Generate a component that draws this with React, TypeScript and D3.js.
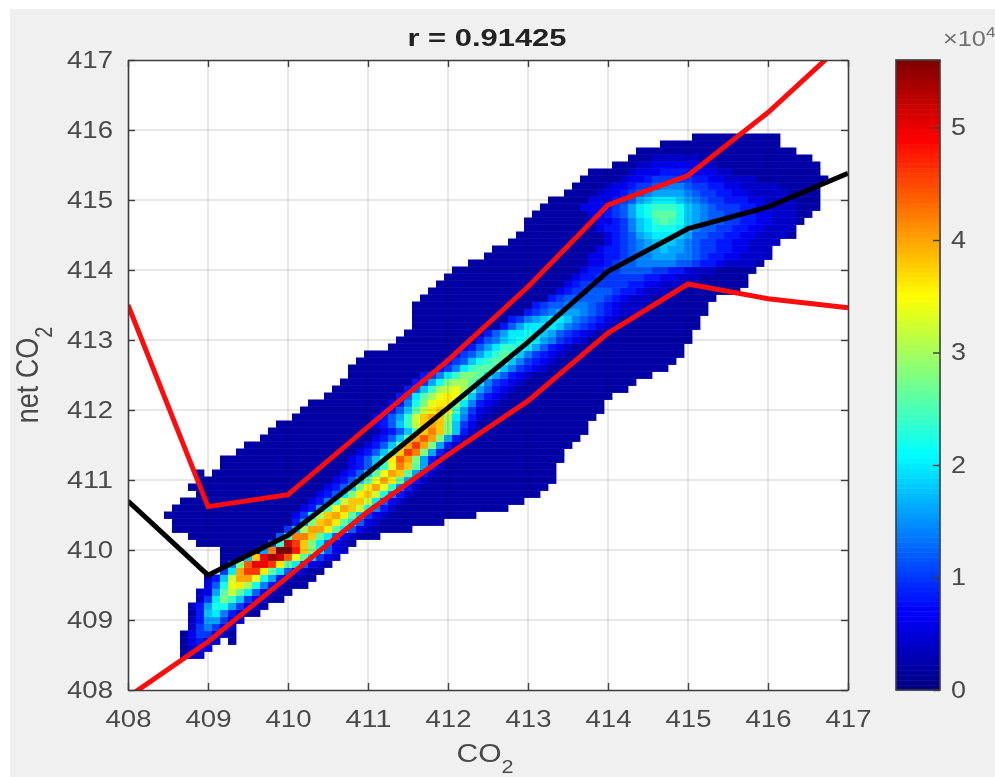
import React, { useEffect, useRef } from "react";
import * as d3 from "d3";

// AXES
const xTicks = [408, 409, 410, 411, 412, 413, 414, 415, 416, 417];
const yTicks = [408, 409, 410, 411, 412, 413, 414, 415, 416, 417];
const colorTicks = [0, 1, 2, 3, 4, 5];
const colorMax = 5.6;

// LINES, READ AT EACH WHOLE CO2 VALUE
const lineX = [408, 409, 410, 411, 412, 413, 414, 415, 416, 417];
const meanLine = [410.7, 409.64, 410.21, 411.1, 412.03, 412.97, 413.98, 414.59, 414.9, 415.38];
const upperLine = [413.5, 410.62, 410.79, 411.76, 412.71, 413.76, 414.93, 415.35, 416.25, 417.3];
const lowerLine = [407.9, 408.69, 409.62, 410.55, 411.36, 412.13, 413.1, 413.8, 413.59, 413.46];

// HEATMAP: one entry per row, first row is 408.5, rows and columns are 0.1 apart
// column number = (CO2 - 408) * 10
const firstRow = 5;
const rowLeft = [
  7, 7, 7, 7, 8, 8, 8, 8, 9, 9, 10, 10, 12, 12, 12, 12, 9, 8, 6, 6, 5, 6, 7, 9, 8,
  9, 9, 12, 12, 14, 15, 17, 18, 19, 21, 22, 23, 25, 26, 27, 28, 28, 29, 30, 33, 34, 35, 36, 36, 36,
  36, 37, 38, 39, 40, 41, 43, 45, 46, 48, 49, 50, 50, 51, 52, 53, 55, 56, 57, 58, 61, 63, 64, 67, 71,
];
const rowRight = [
  9, 10, 13, 13, 13, 14, 16, 17, 19, 20, 22, 23, 24, 25, 26, 27, 28, 31, 35, 39, 43, 47, 49, 51, 52,
  53, 53, 53, 54, 54, 55, 56, 57, 57, 58, 59, 59, 60, 62, 63, 65, 67, 68, 69, 69, 70, 70, 71, 71, 72,
  72, 73, 76, 77, 77, 78, 79, 80, 80, 81, 83, 83, 84, 85, 86, 86, 86, 86, 87, 86, 86, 85, 83, 81, 81,
];
// empty cells inside a row: [row, column]
const rowGaps = [[7, 12], [31, 10]];

// density outside the core of a row, in steps of 0.2
const floorLevel = "1";
// the core of each row starts at this column, one base-36 digit per cell, in steps of 0.2
const coreStart = [
  8, 8, 8, 8, 8, 8, 9, 8, 9, 9, 10, 10, 12, 13, 15, 17, 18, 19, 20, 21, 21, 22, 23, 24, 25,
  26, 27, 28, 28, 29, 30, 31, 32, 31, 31, 32, 33, 34, 35, 36, 37, 39, 40, 41, 42, 44, 45, 47, 48, 50,
  51, 53, 54, 55, 56, 57, 58, 58, 59, 60, 60, 59, 59, 58, 57, 58, 59, 60, 62, 63, 64, 66, 66, 66, 66,
];
const coreLevels = [
  "22",
  "233",
  "3432",
  "35532",
  "257532",
  "2488532",
  "49a742",
  "248bb8532",
  "25aec9532",
  "238dgda632",
  "36bhifb742",
  "249gkkhb842",
  "5aknnida632",
  "7emppnida632",
  "9jprqmhd9532",
  "8lssojea632",
  "6cqnjea632",
  "6clljda632",
  "59fkkida632",
  "48ejkida632",
  "35afjkid9532",
  "348dhkjgb742",
  "347bgjjga632",
  "346aeijgb742",
  "3469eikhc742",
  "3469dhkid842",
  "3469dhkjd842",
  "3469chljd842",
  "3469cimke842",
  "3469cjnle842",
  "3469dknke842",
  "3469dkmke842",
  "3469djlje942",
  "3469cgjkje953",
  "3468cgjkjfa742",
  "3469dgijic8532",
  "347behiiea7432",
  "46adfhihd96432",
  "469cfghfc86432",
  "458beffda75432",
  "457aceeda86432",
  "457acddc975432",
  "4569bcdc975432",
  "4568acdc975432",
  "3468accba86432",
  "4679abba875432",
  "468aaba9865432",
  "468aaaa9765432",
  "45789aa9765432",
  "456788876543222",
  "45667776543222",
  "4566666543222",
  "34556665443222",
  "345555554433222",
  "3445555554433222",
  "34455666655443222",
  "334566777776654432222",
  "33445677888776544332222",
  "34456788988765544332222",
  "3456789998765544332222",
  "345689aaa98665544332222",
  "344579abbba97665544332222",
  "334579acdcb98766554433222",
  "334568abdddb98766554433222",
  "3334568abcccb98765554433222",
  "33345689aaa987655444332222",
  "233456788887655443322222",
  "2334556777655443322222",
  "23345555544332222",
  "2333444433322",
  "2233333322",
  "222222",
  "",
  "",
  "",
];

// MATLAB JET
const jetStops = [0, 1 / 8, 3 / 8, 5 / 8, 7 / 8, 1];
const jetColors = ["#00007f", "#0000ff", "#00ffff", "#ffff00", "#ff0000", "#7f0000"];

export default function App() {
  const ref = useRef<SVGSVGElement | null>(null);

  useEffect(() => {
    const root = d3.select(ref.current);
    root.selectAll("*").remove();

    const margin = { top: 60, right: 147, bottom: 87, left: 128 };
    const W = 995;
    const H = 777;
    const inkDark = "#3c3c3c";
    const sans = "'Liberation Sans', Arial, sans-serif";

    // SCALES
    const x = d3.scaleLinear().domain([408, 417]).range([margin.left, W - margin.right]);
    const y = d3.scaleLinear().domain([408, 417]).range([H - margin.bottom, margin.top]);
    const jet = d3
      .scaleLinear<string>()
      .domain(jetStops.map((s) => s * colorMax))
      .range(jetColors)
      .clamp(true);

    const defs = root.append("defs");
    defs
      .append("clipPath")
      .attr("id", "plot-clip")
      .append("rect")
      .attr("x", x(408))
      .attr("y", y(417))
      .attr("width", x(417) - x(408))
      .attr("height", y(408) - y(417));
    defs
      .append("filter")
      .attr("id", "soft")
      .attr("filterUnits", "userSpaceOnUse")
      .attr("x", 0)
      .attr("y", 0)
      .attr("width", W)
      .attr("height", H)
      .append("feGaussianBlur")
      .attr("stdDeviation", 0.7);

    // the reference is a soft, scaled up screenshot
    const svg = root.append("g").attr("filter", "url(#soft)");

    // BACKGROUND
    svg.append("rect").attr("width", W).attr("height", H).attr("fill", "#fff");
    svg.append("rect").attr("x", 10).attr("y", 9).attr("width", W - 10).attr("height", H - 9).attr("fill", "#f0f0f0");
    svg
      .append("rect")
      .attr("x", x(408))
      .attr("y", y(417))
      .attr("width", x(417) - x(408))
      .attr("height", y(408) - y(417))
      .attr("fill", "#fff");

    // HEATMAP CELLS
    const cw = x(408.1) - x(408);
    const ch = y(408) - y(408.1);
    const cells: { col: number; row: number; value: number }[] = [];
    rowLeft.forEach((left, k) => {
      const row = firstRow + k;
      for (let col = left; col <= rowRight[k]; col++) {
        if (rowGaps.some((g) => g[0] === row && g[1] === col)) continue;
        const ch36 = coreLevels[k][col - coreStart[k]] ?? floorLevel;
        cells.push({ col, row, value: parseInt(ch36, 36) * 0.2 });
      }
    });

    const plot = svg.append("g").attr("clip-path", "url(#plot-clip)");
    plot
      .append("g")
      .selectAll("rect")
      .data(cells)
      .join("rect")
      .attr("x", (d) => x(408 + d.col / 10) - cw / 2)
      .attr("y", (d) => y(408 + d.row / 10) - ch / 2)
      .attr("width", cw + 0.4)
      .attr("height", ch + 0.4)
      .attr("fill", (d) => jet(d.value));

    // GRID
    const grid = plot.append("g").attr("stroke", "#262626").attr("stroke-opacity", 0.14).attr("stroke-width", 1.5);
    grid
      .selectAll("line.gx")
      .data(xTicks.slice(1, -1))
      .join("line")
      .attr("x1", (d) => x(d))
      .attr("x2", (d) => x(d))
      .attr("y1", y(408))
      .attr("y2", y(417));
    grid
      .selectAll("line.gy")
      .data(yTicks.slice(1, -1))
      .join("line")
      .attr("y1", (d) => y(d))
      .attr("y2", (d) => y(d))
      .attr("x1", x(408))
      .attr("x2", x(417));

    // LINES
    const line = d3
      .line<number>()
      .x((_, i) => x(lineX[i]))
      .y((d) => y(d));
    const addLine = (values: number[], color: string) =>
      plot
        .append("path")
        .datum(values)
        .attr("fill", "none")
        .attr("stroke", color)
        .attr("stroke-width", 5)
        .attr("stroke-linejoin", "miter")
        .attr("d", line);
    addLine(upperLine, "#fb0a0a");
    addLine(lowerLine, "#fb0a0a");
    addLine(meanLine, "#050505");

    // AXES
    const styleAxis = (g: any, labels: boolean) => {
      g.selectAll("path").attr("stroke", inkDark).attr("stroke-width", 1.6);
      g.selectAll("line").attr("stroke", inkDark).attr("stroke-width", 1.4);
      if (labels) {
        g.selectAll("text")
          .attr("fill", "#4a4a4a")
          .attr("font-family", sans)
          .attr("font-size", 23)
          .attr("textLength", 46)
          .attr("lengthAdjust", "spacingAndGlyphs");
      } else {
        g.selectAll("text").remove();
      }
    };
    svg
      .append("g")
      .attr("transform", `translate(0,${y(408)})`)
      .call(d3.axisBottom(x).tickValues(xTicks).tickFormat(d3.format("d")).tickSize(-7).tickSizeOuter(0).tickPadding(21))
      .call(styleAxis, true);
    svg
      .append("g")
      .attr("transform", `translate(${x(408)},0)`)
      .call(d3.axisLeft(y).tickValues(yTicks).tickFormat(d3.format("d")).tickSize(-7).tickSizeOuter(0).tickPadding(15))
      .call(styleAxis, true);
    svg
      .append("g")
      .attr("transform", `translate(0,${y(417)})`)
      .call(d3.axisTop(x).tickValues(xTicks).tickSize(-7).tickSizeOuter(0))
      .call(styleAxis, false);
    svg
      .append("g")
      .attr("transform", `translate(${x(417)},0)`)
      .call(d3.axisRight(y).tickValues(yTicks).tickSize(-7).tickSizeOuter(0))
      .call(styleAxis, false);

    // TITLE & LABELS
    svg
      .append("text")
      .attr("x", 487)
      .attr("y", 46)
      .attr("text-anchor", "middle")
      .attr("font-family", sans)
      .attr("font-weight", "bold")
      .attr("font-size", 23)
      .attr("fill", "#222")
      .attr("textLength", 159)
      .attr("lengthAdjust", "spacingAndGlyphs")
      .text("r = 0.91425");

    const xLabel = svg
      .append("text")
      .attr("transform", "translate(485,762) scale(1.2,1)")
      .attr("text-anchor", "middle")
      .attr("font-family", sans)
      .attr("font-size", 25)
      .attr("fill", "#4a4a4a");
    xLabel.append("tspan").text("CO");
    xLabel.append("tspan").attr("dy", 11).attr("font-size", 18).text("2");

    const yLabel = svg
      .append("text")
      .attr("transform", "translate(38,375) scale(1.17,1) rotate(-90)")
      .attr("text-anchor", "middle")
      .attr("font-family", sans)
      .attr("font-size", 27)
      .attr("fill", "#4a4a4a");
    yLabel.append("tspan").text("net CO");
    yLabel.append("tspan").attr("dy", 12).attr("font-size", 20).text("2");

    // COLORBAR
    const cbLeft = 896;
    const cbWidth = 44;
    const cScale = d3.scaleLinear().domain([0, colorMax]).range([y(408), y(417)]);
    const bandCount = 128;
    const bands = d3.range(bandCount).map((b) => (b * colorMax) / bandCount);
    svg
      .append("g")
      .selectAll("rect")
      .data(bands)
      .join("rect")
      .attr("x", cbLeft)
      .attr("width", cbWidth)
      .attr("y", (d) => cScale(d + colorMax / bandCount))
      .attr("height", (y(408) - y(417)) / bandCount + 0.5)
      .attr("fill", (d) => jet(d + colorMax / bandCount / 2));
    svg
      .append("rect")
      .attr("x", cbLeft)
      .attr("y", y(417))
      .attr("width", cbWidth)
      .attr("height", y(408) - y(417))
      .attr("fill", "none")
      .attr("stroke", inkDark)
      .attr("stroke-width", 1.6);
    const cbAxis = svg
      .append("g")
      .attr("transform", `translate(${cbLeft + cbWidth},0)`)
      .call(d3.axisRight(cScale).tickValues(colorTicks).tickFormat(d3.format("d")).tickSize(-7).tickSizeOuter(0).tickPadding(11));
    cbAxis.select("path").remove();
    cbAxis.selectAll("line").attr("stroke", inkDark).attr("stroke-width", 1.4);
    cbAxis
      .selectAll("text")
      .attr("fill", "#4a4a4a")
      .attr("font-family", sans)
      .attr("font-size", 23)
      .attr("textLength", 15)
      .attr("lengthAdjust", "spacingAndGlyphs");

    const scaleNote = svg
      .append("text")
      .attr("transform", "translate(943,46) scale(1.15,1)")
      .attr("font-family", sans)
      .attr("font-size", 22)
      .attr("fill", "#707070");
    scaleNote.append("tspan").text("×10");
    scaleNote.append("tspan").attr("dy", -9).attr("font-size", 15).text("4");
  }, []);

  return <svg ref={ref} width={995} height={777} style={{ position: "absolute", left: 0, top: 0 }} />;
}
